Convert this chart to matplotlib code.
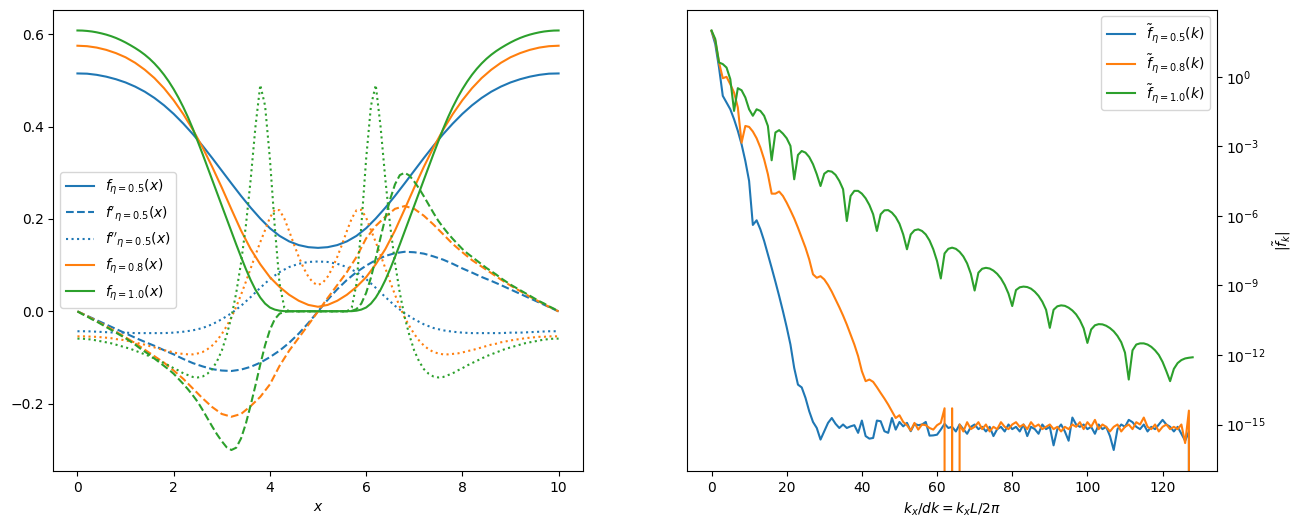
import numpy as np
import matplotlib
matplotlib.use("Agg")
import matplotlib.pyplot as plt

x_coarse = np.linspace(0, 10, 51)   # step 0.2
x_fine = np.linspace(0, 10, 101)    # step 0.1

f_05 = [0.515, 0.5145, 0.512, 0.508, 0.5025, 0.4955, 0.4865, 0.4755, 0.462, 0.446,
        0.4275, 0.4065, 0.3835, 0.3585, 0.332, 0.3045, 0.277, 0.250, 0.2245, 0.201,
        0.180, 0.1635, 0.1515, 0.1435, 0.139, 0.1375, 0.139, 0.1435, 0.1515, 0.1635,
        0.180, 0.201, 0.2245, 0.250, 0.277, 0.3045, 0.332, 0.3585, 0.3835, 0.4065,
        0.4275, 0.446, 0.462, 0.4755, 0.4865, 0.4955, 0.5025, 0.508, 0.512, 0.5145, 0.515]
df_05 = [0.0, -0.0095, -0.019, -0.0285, -0.038, -0.0475, -0.057, -0.066, -0.0745, -0.084,
         -0.093, -0.103, -0.112, -0.119, -0.125, -0.128, -0.129, -0.126, -0.120, -0.111,
         -0.099, -0.085, -0.068, -0.048, -0.025, 0.0, 0.025, 0.048, 0.068, 0.085,
         0.099, 0.111, 0.120, 0.126, 0.129, 0.128, 0.125, 0.119, 0.112, 0.103,
         0.093, 0.084, 0.0745, 0.066, 0.057, 0.0475, 0.038, 0.0285, 0.019, 0.0095, 0.0]
ddf_05 = [-0.043, -0.043, -0.044, -0.045, -0.046, -0.046, -0.047, -0.047, -0.047, -0.047,
          -0.046, -0.044, -0.041, -0.036, -0.028, -0.017, -0.004, 0.012, 0.031, 0.051,
          0.070, 0.085, 0.096, 0.103, 0.107, 0.108, 0.107, 0.103, 0.096, 0.085,
          0.070, 0.051, 0.031, 0.012, -0.004, -0.017, -0.028, -0.036, -0.041, -0.044,
          -0.046, -0.047, -0.047, -0.047, -0.047, -0.046, -0.046, -0.045, -0.044, -0.043, -0.043]

f_08 = [0.575, 0.574, 0.571, 0.566, 0.559, 0.550, 0.538, 0.523, 0.505, 0.483,
        0.457, 0.427, 0.393, 0.355, 0.313, 0.268, 0.221, 0.175, 0.135, 0.102,
        0.074, 0.053, 0.036, 0.023, 0.014, 0.010, 0.014, 0.023, 0.036, 0.053,
        0.074, 0.102, 0.135, 0.175, 0.221, 0.268, 0.313, 0.355, 0.393, 0.427,
        0.457, 0.483, 0.505, 0.523, 0.538, 0.550, 0.559, 0.566, 0.571, 0.574, 0.575]
df_08 = [0.0, -0.010, -0.021, -0.032, -0.044, -0.056, -0.069, -0.083, -0.097, -0.111,
         -0.128, -0.146, -0.167, -0.188, -0.207, -0.222, -0.228, -0.222, -0.205, -0.185,
         -0.158, -0.118, -0.085, -0.057, -0.029, 0.0, 0.029, 0.057, 0.085, 0.118,
         0.158, 0.185, 0.205, 0.222, 0.228, 0.222, 0.207, 0.188, 0.167, 0.146,
         0.128, 0.111, 0.097, 0.083, 0.069, 0.056, 0.044, 0.032, 0.021, 0.010, 0.0]
ddf_08 = [-0.054, -0.054, -0.054, -0.055, -0.055, -0.056, -0.057, -0.058, -0.060, -0.061,
          -0.063, -0.065, -0.067, -0.070, -0.072, -0.075, -0.078, -0.081, -0.084, -0.086,
          -0.089, -0.091, -0.092, -0.093, -0.093, -0.091, -0.088, -0.082, -0.074, -0.063,
          -0.049, -0.032, -0.013, 0.010, 0.036, 0.064, 0.093, 0.122, 0.150, 0.176,
          0.203, 0.220, 0.219, 0.201, 0.174, 0.145, 0.118, 0.094, 0.075, 0.062,
          0.057,
          0.062, 0.075, 0.094, 0.118, 0.145, 0.174, 0.201, 0.219, 0.220, 0.203,
          0.176, 0.150, 0.122, 0.093, 0.064, 0.036, 0.010, -0.013, -0.032, -0.049,
          -0.063, -0.074, -0.082, -0.088, -0.091, -0.093, -0.093, -0.092, -0.091, -0.089,
          -0.086, -0.084, -0.081, -0.078, -0.075, -0.072, -0.070, -0.067, -0.065, -0.063,
          -0.061, -0.060, -0.058, -0.057, -0.056, -0.055, -0.055, -0.054, -0.054, -0.054]

f_10 = [0.608, 0.6078, 0.607, 0.6058, 0.604, 0.6017, 0.599, 0.5957, 0.5918, 0.5872,
        0.582, 0.5762, 0.570, 0.5632, 0.5555, 0.5467, 0.5366, 0.5251, 0.5121, 0.4974,
        0.4809, 0.4625, 0.4421, 0.4196, 0.3949, 0.3679, 0.3409, 0.3129, 0.2849, 0.2569,
        0.2289, 0.2009, 0.1729, 0.1449, 0.1179, 0.0919, 0.0679, 0.0469, 0.0299, 0.0169,
        0.0084, 0.0039, 0.0015, 0.0005, 0.0005, 0.0005, 0.0005, 0.0005, 0.0005, 0.0005,
        0.0005,
        0.0005, 0.0005, 0.0005, 0.0005, 0.0005, 0.0005, 0.0005, 0.0015, 0.0039, 0.0084,
        0.0169, 0.0299, 0.0469, 0.0679, 0.0919, 0.1179, 0.1449, 0.1729, 0.2009, 0.2289,
        0.2569, 0.2849, 0.3129, 0.3409, 0.3679, 0.3949, 0.4196, 0.4421, 0.4625, 0.4809,
        0.4974, 0.5121, 0.5251, 0.5366, 0.5467, 0.5555, 0.5632, 0.570, 0.5762, 0.582,
        0.5872, 0.5918, 0.5957, 0.599, 0.6017, 0.604, 0.6058, 0.607, 0.6078, 0.608]
df_10 = [0.0, -0.006, -0.011, -0.017, -0.022, -0.028, -0.034, -0.040, -0.046, -0.052,
         -0.058, -0.065, -0.072, -0.080, -0.087, -0.094, -0.102, -0.110, -0.118, -0.126,
         -0.135, -0.146, -0.157, -0.169, -0.182, -0.196, -0.213, -0.231, -0.249, -0.266,
         -0.281, -0.294, -0.300, -0.295, -0.275, -0.243, -0.203, -0.160, -0.115, -0.073,
         -0.040, -0.017, -0.005, -0.001, 0.0, 0.0, 0.0, 0.0, 0.0, 0.0,
         0.0,
         0.0, 0.0, 0.0, 0.0, 0.0, 0.0, 0.001, 0.005, 0.017, 0.040,
         0.073, 0.115, 0.160, 0.203, 0.243, 0.275, 0.295, 0.300, 0.294, 0.281,
         0.266, 0.249, 0.231, 0.213, 0.196, 0.182, 0.169, 0.157, 0.146, 0.135,
         0.126, 0.118, 0.110, 0.102, 0.094, 0.087, 0.080, 0.072, 0.065, 0.058,
         0.052, 0.046, 0.040, 0.034, 0.028, 0.022, 0.017, 0.011, 0.006, 0.0]
ddf_10 = [-0.059, -0.059, -0.060, -0.061, -0.063, -0.065, -0.067, -0.069, -0.072, -0.075,
          -0.078, -0.081, -0.085, -0.089, -0.093, -0.097, -0.102, -0.107, -0.112, -0.117,
          -0.123, -0.128, -0.134, -0.138, -0.142, -0.143, -0.141, -0.135, -0.125, -0.108,
          -0.085, -0.052, -0.012, 0.040, 0.105, 0.185, 0.285, 0.400, 0.490, 0.445,
          0.330, 0.185, 0.060, 0.008, 0.0, 0.0, 0.0, 0.0, 0.0, 0.0,
          0.0,
          0.0, 0.0, 0.0, 0.0, 0.0, 0.0, 0.008, 0.060, 0.185, 0.330,
          0.445, 0.490, 0.400, 0.285, 0.185, 0.105, 0.040, -0.012, -0.052, -0.085,
          -0.108, -0.125, -0.135, -0.141, -0.143, -0.142, -0.138, -0.134, -0.128, -0.123,
          -0.117, -0.112, -0.107, -0.102, -0.097, -0.093, -0.089, -0.085, -0.081, -0.078,
          -0.075, -0.072, -0.069, -0.067, -0.065, -0.063, -0.061, -0.060, -0.059, -0.059]

# ---- Fourier amplitudes, stored as log10|f_k| (-inf means exactly zero) ----
k = np.arange(129)
ninf = -np.inf

logft_05 = [1.97, 1.41, 0.40, -0.82, -1.11, -1.40, -1.83, -2.33, -2.91, -3.63,
            -4.49, -6.39, -6.19, -6.58, -7.08, -7.66, -8.24, -8.84, -9.46, -10.11,
            -10.80, -11.55, -12.56, -13.28, -13.40, -13.85, -14.43, -14.89, -15.15, -15.65,
            -15.29, -14.93, -14.72, -14.97, -15.15, -15.00, -15.15, -15.08, -15.03, -15.36,
            -14.83, -15.50, -15.61, -15.58, -14.83, -14.86, -15.29, -15.36, -14.72, -15.22,
            -14.89, -15.08, -14.93, -15.29, -14.97, -15.03, -15.00, -14.89, -15.48, -15.47,
            -15.44, -15.22, -14.97, -15.15, -15.10, -15.30, -15.00, -15.20, -15.40, -15.10,
            -15.00, -15.20, -15.10, -15.30, -15.10, -15.50, -15.20, -15.10, -15.30, -15.00,
            -15.20, -15.10, -15.30, -15.00, -15.50, -15.10, -15.20, -15.40, -15.00, -15.20,
            -15.10, -15.90, -15.20, -15.00, -15.30, -15.70, -14.70, -15.00, -15.10, -15.00,
            -15.20, -15.10, -15.40, -15.00, -15.20, -15.10, -15.50, -16.10, -15.20, -15.00,
            -15.10, -14.80, -14.90, -15.10, -15.20, -15.00, -15.30, -15.10, -15.20, -15.00,
            -14.80, -15.00, -15.10, -15.30, -15.10, -15.40, -15.70, -15.30, ninf]

logft_08 = [1.98, 1.56, 0.62, -0.06, 0.00, -0.32, -0.68, -1.32, -2.84, -2.12,
            -2.16, -2.36, -2.65, -3.05, -3.56, -4.20, -5.04, -5.04, -4.95, -5.14,
            -5.43, -5.76, -6.11, -6.51, -6.94, -7.37, -7.88, -8.52, -8.67, -8.60,
            -8.74, -8.98, -9.27, -9.60, -9.94, -10.30, -10.69, -11.12, -11.55, -12.05,
            -12.70, -13.13, -13.06, -13.16, -13.39, -13.64, -13.88, -14.14, -14.43, -14.72,
            -14.60, -14.89, -15.03, -15.26, -14.93, -15.22, -15.00, -15.03, -15.15, -15.22,
            -15.03, -14.93, -14.30, ninf, -14.30, ninf, -15.00, -15.30, -14.90, -15.20,
            -15.10, -14.90, -15.20, -15.00, -15.30, -15.10, -15.20, -14.90, -15.10, -15.20,
            -15.00, -14.90, -15.10, -15.00, -15.20, -14.90, -15.10, -15.00, -15.20, -15.10,
            -15.00, -15.20, -15.10, -15.30, -15.10, -15.20, -15.00, -15.10, -14.90, -15.20,
            -14.90, -15.10, -14.80, -15.20, -15.00, -15.10, -15.30, -15.10, -15.00, -15.30,
            -15.10, -15.00, -15.20, -14.90, -15.00, -14.70, -15.10, -15.20, -15.00, -15.30,
            -15.10, -15.00, -15.20, -15.10, -15.20, -15.00, -15.80, -14.40, ninf]

logft_10 = [2.00, 1.63, 0.62, 0.55, 0.40, -0.10, -1.47, -0.49, -0.58, -0.89,
            -1.40, -1.68, -1.40, -1.47, -1.68, -2.12, -3.60, -2.40, -2.30, -2.45,
            -2.65, -2.98, -4.42, -3.37, -3.20, -3.27, -3.46, -3.77, -4.20, -4.71,
            -4.18, -4.06, -4.09, -4.23, -4.49, -4.85, -6.22, -5.14, -4.92, -4.92,
            -5.04, -5.24, -5.53, -5.93, -6.65, -5.93, -5.76, -5.75, -5.86, -6.05,
            -6.34, -6.80, -7.44, -6.80, -6.62, -6.58, -6.65, -6.80, -7.06, -7.44,
            -7.95, -8.70, -7.62, -7.42, -7.37, -7.42, -7.55, -7.75, -8.05, -8.50,
            -9.22, -8.45, -8.28, -8.24, -8.27, -8.36, -8.50, -8.70, -8.98, -9.35,
            -9.89, -9.20, -9.08, -9.05, -9.07, -9.14, -9.27, -9.45, -9.70, -10.05,
            -10.83, -10.05, -9.90, -9.86, -9.88, -9.96, -10.08, -10.25, -10.50, -10.85,
            -11.48, -10.90, -10.72, -10.67, -10.68, -10.74, -10.84, -10.98, -11.18, -11.45,
            -11.90, -13.06, -11.80, -11.55, -11.50, -11.50, -11.55, -11.65, -11.80, -12.00,
            -12.30, -12.70, -13.13, -12.60, -12.35, -12.22, -12.15, -12.12, -12.10]

ft_05 = 10.0 ** np.array(logft_05)
ft_08 = 10.0 ** np.array(logft_08)
ft_10 = 10.0 ** np.array(logft_10)

fig, (ax1, ax2) = plt.subplots(1, 2, figsize=(13.02, 5.28), dpi=100)
plt.subplots_adjust(left=0.041, right=0.9345, bottom=0.108, top=0.982, wspace=0.198)

# left: profiles and derivatives
ax1.plot(x_coarse, f_05, color='C0', label=r'$f_{\eta=0.5}(x)$')
ax1.plot(x_coarse, df_05, color='C0', ls='--', label=r"$f'_{\eta=0.5}(x)$")
ax1.plot(x_coarse, ddf_05, color='C0', ls=':', label=r"$f''_{\eta=0.5}(x)$")
ax1.plot(x_coarse, f_08, color='C1', label=r'$f_{\eta=0.8}(x)$')
ax1.plot(x_coarse, df_08, color='C1', ls='--')
ax1.plot(x_fine, ddf_08, color='C1', ls=':')
ax1.plot(x_fine, f_10, color='C2', label=r'$f_{\eta=1.0}(x)$')
ax1.plot(x_fine, df_10, color='C2', ls='--')
ax1.plot(x_fine, ddf_10, color='C2', ls=':')
ax1.set_xlabel(r'$x$')
ax1.legend(loc='center left')

# right: spectra
ax2.semilogy(k, ft_05, color='C0', label=r'$\tilde{f}_{\eta=0.5}(k)$')
ax2.semilogy(k, ft_08, color='C1', label=r'$\tilde{f}_{\eta=0.8}(k)$')
ax2.semilogy(k, ft_10, color='C2', label=r'$\tilde{f}_{\eta=1.0}(k)$')
ax2.yaxis.tick_right()
ax2.yaxis.set_label_position('right')
ax2.set_xlabel(r'$k_x/dk = k_xL/2\pi$')
ax2.set_ylabel(r'$|\tilde{f}_k|$')
ax2.legend(loc='upper right')

fig.savefig('out.png', dpi=100)
